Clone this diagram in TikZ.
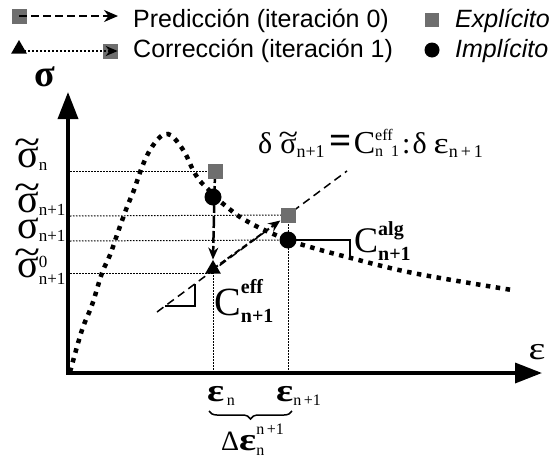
\documentclass[tikz,border=0pt]{standalone}
\usepackage{fontspec}
\setmainfont{Liberation Serif}
\newfontfamily\legfont{Liberation Sans}
\usetikzlibrary{arrows.meta,decorations.pathreplacing,shapes.geometric}
\pgfdeclarelayer{bg}
\pgfsetlayers{bg,main}
\newcommand\fs[1]{\fontsize{#1}{#1}\selectfont}
\newcommand\tls[1]{\setbox0\hbox{#1}\rlap{\hbox to\wd0{\hss\raisebox{0.3em}{\scalebox{1.2}[1]{\symbol{126}}}\hss}}\copy0}
\newcommand\weps{\scalebox{1.25}[1]{ε}}
\definecolor{mk}{RGB}{110,110,110}
\begin{document}
\begin{tikzpicture}[x=1pt,y=-1pt,
  lbl/.style={anchor=base west,inner sep=0pt},
  sqm/.style={rectangle,fill=mk,minimum size=15pt,inner sep=0pt},
  cim/.style={circle,fill=black,minimum size=17pt,inner sep=0pt},
  trm/.style={regular polygon,regular polygon sides=3,fill=black,minimum size=18pt,inner sep=0pt},
  axis/.style={line width=3.5pt,arrows={Triangle[length=27pt,width=20pt]-Triangle[length=27pt,width=20pt]}},
  curve/.style={line width=4.5pt,dash pattern=on 4.5pt off 5.5pt},
  guide/.style={line width=1pt,dash pattern=on 1.5pt off 1.5pt},
  tangent/.style={line width=1.5pt,dash pattern=on 8pt off 5pt},
  predarrow/.style={line width=2.5pt,dash pattern=on 12pt off 3pt,-{Stealth[length=12pt,width=10pt]}},
  corrarrow/.style={line width=2pt,dash pattern=on 6pt off 3pt,-{Stealth[length=12pt,width=10pt]}},
  legpred/.style={line width=2pt,dash pattern=on 8pt off 4pt,-{Stealth[length=14pt,width=12pt]}},
  legcorr/.style={line width=2pt,dash pattern=on 2pt off 2pt,-{Stealth[length=12pt,width=10pt]}},
  slope/.style={line width=1.5pt},
  bracestyle/.style={line width=1.5pt,decorate,decoration={brace,mirror,amplitude=8pt}}
]
\useasboundingbox (0,0) rectangle (552,461);

% legend
\node[sqm] (lsq1) at (19,16) {};
\coordinate (lend1) at (118,16);
\draw[legpred] (lsq1.center) -- (lend1);
\node[lbl] (lt1) at (133,27) {\legfont\fs{25}Predicción (iteración 0)};
\node[trm] (ltri2) at (19,49) {};
\node[sqm] (lsq2) at (110,51) {};
\draw[legcorr] (ltri2.east |- lsq2) -- (lsq2.east);
\node[lbl] (lt2) at (133,57) {\legfont\fs{25}Corrección (iteración 1)};
\node[sqm,minimum size=14pt] (lsq3) at (432,20) {};
\node[lbl] (lt3) at (455,27) {\legfont\itshape\fs{25}Explícito};
\node[cim,minimum size=15pt] (lci) at (432,50) {};
\node[lbl] (lt4) at (455,57) {\legfont\itshape\fs{25}Implícito};

% axes
\coordinate (O) at (68,373);
\coordinate (Ytop) at (68,92);
\coordinate (Xend) at (542,373);
\draw[axis] (Ytop) -- (O) -- (Xend);
\node (sig) at (45,77) {\fs{38}\bfseries σ};
\node (eps) at (537,352) {\fs{32}\weps};

% markers
\node[sqm] (s1) at (215,171) {};
\node[cim] (c1) at (213,197) {};
\node[trm] (t1) at (213,269) {};
\node[sqm] (s2) at (288,215) {};
\node[cim] (c2) at (288,240) {};

% coordinates
\coordinate (g1) at (70,171);
\coordinate (g2) at (70,216);
\coordinate (g3) at (70,241);
\coordinate (g4) at (70,273);
\coordinate (h1) at (213,372);
\coordinate (h2) at (288,372);
\coordinate (tA) at (157,312);
\coordinate (tB) at (347,171);
\coordinate (e1) at (165,306);
\coordinate (e2) at (195,306);
\coordinate (e3) at (195,283.8);
\coordinate (a2) at (350,240);
\coordinate (a3) at (350,257);
\coordinate (b1) at (209,411);
\coordinate (b2) at (292,411);

\begin{pgfonlayer}{bg}
\draw[guide] (g1) -- (s1.center);
\draw[guide] (g2) -- (s2.center);
\draw[guide] (g3) -- (c2.center);
\draw[guide] (g4) -- (g4 -| t1);
\draw[guide] (t1.center) -- (h1);
\draw[guide] (s2.center) -- (h2);
\draw[tangent] (tA) -- (tB);
\draw[slope] (e1) -- (e2) -- (e3);
\draw[slope] (c2.center) -- (a2) -- (a3);
\draw[predarrow] (s1.center) -- (t1.north);
\draw[corrarrow] (t1.center) -- (s2);
\draw[curve] plot[smooth,tension=0.6] coordinates {(70,372) (82,330) (92,305) (102,273) (110,255) (118,232) (127,207) (134,190) (142,167) (150,150) (160,137) (168,134) (175,139) (185,153) (193,170) (200,181) (208,189) (214,196) (227,207) (240,217) (260,228) (288,240) (310,247) (347,257) (413,273) (512,290)};
\end{pgfonlayer}

% left labels
\node[lbl] (ln1) at (17,167) {\fs{40}\tls{σ}\fs{17}\raisebox{-3pt}{n}};
\node[lbl] (ln2) at (17,212) {\fs{40}\tls{σ}\fs{17}\raisebox{-3pt}{n+1}};
\node[lbl] (ln3) at (17,238) {\fs{40}σ\fs{17}\raisebox{-3pt}{n+1}};
\node[lbl] (ln4) at (17,277) {\fs{40}\tls{σ}\fs{17}\rlap{\raisebox{10pt}{0}}\raisebox{-7pt}{n+1}};

% formula
\node[lbl] (form) at (258,153) {\fs{30}δ\hspace{8pt}\tls{σ}\fs{18}\raisebox{-4pt}{n+1}\fs{30}\hspace{5pt}\scalebox{1.3}{\textbf{=}}\hspace{2pt}\fs{32}C\fs{16}\rlap{\raisebox{13pt}{eff}}\raisebox{-3pt}{n\ \ 1}\fs{30}\hspace{3pt}:\hspace{2pt}δ\hspace{7pt}\scalebox{1.2}[1]{ε}\fs{18}\raisebox{-4pt}{n\,+\,1}};

% C labels
\node[lbl] (ceff) at (214,315) {\fs{40}C\fs{20}\bfseries\rlap{\raisebox{22pt}{eff}}\raisebox{-7pt}{n+1}};
\node[lbl] (calg) at (354,252) {\fs{36}C\fs{20}\bfseries\rlap{\raisebox{17pt}{alg}}\raisebox{-8pt}{n+1}};

% bottom labels
\node[lbl] (en) at (207,401) {\fs{32}\bfseries\weps\fs{16}\mdseries\raisebox{-4pt}{\,n}};
\node[lbl] (en1) at (276,401) {\fs{32}\bfseries\weps\fs{16}\mdseries\raisebox{-4pt}{n\,+1}};
\draw[bracestyle] (b1) -- (b2);
\node[lbl] (de) at (221,450) {\fs{28}Δ\fs{32}\bfseries\weps\fs{16}\mdseries\rlap{\raisebox{16pt}{n\,+1}}\raisebox{-5pt}{n}};
\end{tikzpicture}
\end{document}
